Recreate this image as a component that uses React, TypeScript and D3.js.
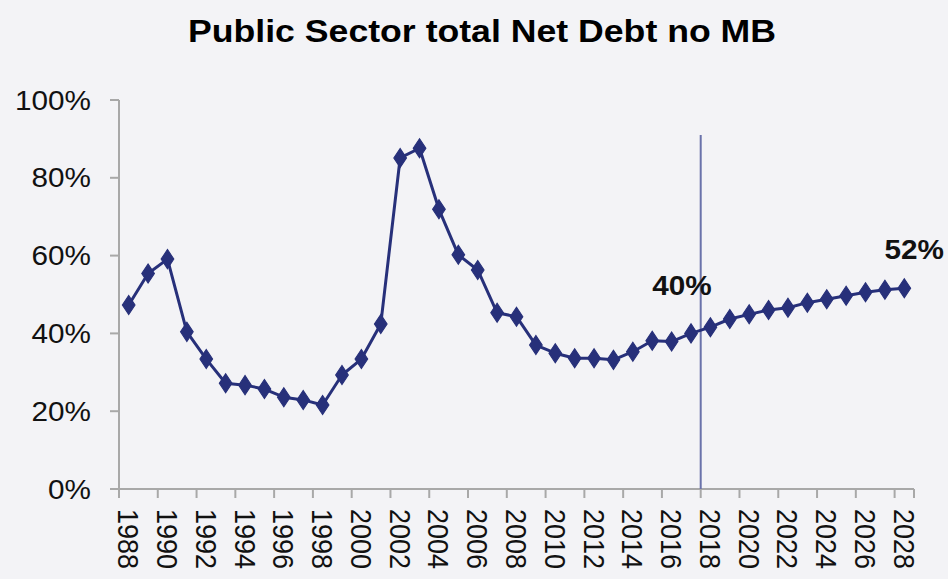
import React from "react";
import * as d3 from "d3";

const title = "Public Sector total Net Debt no MB";
const years: number[] = [
  1988, 1989, 1990, 1991, 1992, 1993, 1994, 1995, 1996, 1997, 1998, 1999, 2000,
  2001, 2002, 2003, 2004, 2005, 2006, 2007, 2008, 2009, 2010, 2011, 2012, 2013,
  2014, 2015, 2016, 2017, 2018, 2019, 2020, 2021, 2022, 2023, 2024, 2025, 2026,
  2027, 2028,
];
const debt: number[] = [
  47.3, 55.4, 59.1, 40.4, 33.4, 27.2, 26.7, 25.7, 23.6, 22.9, 21.6, 29.3, 33.4,
  42.4, 85.1, 87.6, 71.9, 60.2, 56.3, 45.3, 44.3, 37.0, 34.9, 33.6, 33.6, 33.2,
  35.3, 38.1, 37.9, 40.0, 41.6, 43.7, 44.9, 46.0, 46.6, 47.9, 48.8, 49.7, 50.6,
  51.2, 51.6,
];
const yTicks: number[] = [0, 20, 40, 60, 80, 100];
const xTickLabels: number[] = years.filter((_, i) => i % 2 === 0);
const annotations: { year: number; text: string }[] = [
  { year: 2017, text: "40%" },
  { year: 2028, text: "52%" },
];
const markerYear = 2018;

export default function App() {
  const W = 948;
  const H = 579;
  const left = 119;
  const right = 914;
  const top = 100;
  const bottom = 489;
  const sx = 1.1;

  const x = d3
    .scaleBand<number>()
    .domain(years)
    .range([left, right])
    .padding(0);
  const y = d3.scaleLinear().domain([0, 100]).range([bottom, top]);
  const cx = (yr: number) => (x(yr) as number) + x.bandwidth() / 2;

  const lineGen = d3
    .line<number>()
    .x((_, i) => cx(years[i]))
    .y((d) => y(d));

  const diamond = d3.symbol().type(d3.symbolDiamond).size(105)();

  const font = "'Liberation Sans', Arial, sans-serif";
  const axisColor = "#a8a8a8";
  const lineColor = "#27307a";

  const boundaryTicks = xTickLabels.map((yr) => x(yr) as number);
  boundaryTicks.push(right);

  return (
    <div style={{ position: "absolute", left: 0, top: 0 }}>
      <svg width={W} height={H} style={{ display: "block" }}>
        <rect x={0} y={0} width={W} height={H} fill="#f3f3f6" />
        <text
          x={188}
          y={42}
          textAnchor="start"
          textLength={588}
          lengthAdjust="spacingAndGlyphs"
          fontFamily={font}
          fontWeight="bold"
          fontSize={31}
          fill="#000"
        >
          {title}
        </text>

        {/* y axis */}
        <line x1={left} x2={left} y1={top} y2={bottom} stroke={axisColor} strokeWidth={2} />
        {yTicks.map((t) => (
          <g key={t}>
            <line x1={left - 9} x2={left} y1={y(t)} y2={y(t)} stroke={axisColor} strokeWidth={2} />
            <text
              transform={`translate(91,${y(t)}) scale(${sx},1)`}
              textAnchor="end"
              dominantBaseline="central"
              fontFamily={font}
              fontSize={27}
              fill="#111"
            >
              {t}%
            </text>
          </g>
        ))}

        {/* x axis */}
        <line x1={left} x2={right} y1={bottom} y2={bottom} stroke={axisColor} strokeWidth={2} />
        {boundaryTicks.map((bx, i) => (
          <line key={i} x1={bx} x2={bx} y1={bottom} y2={bottom + 9} stroke={axisColor} strokeWidth={2} />
        ))}
        {xTickLabels.map((yr) => (
          <text
            key={yr}
            transform={`translate(${cx(yr)},${509}) scale(${sx},1) rotate(90)`}
            textAnchor="start"
            dominantBaseline="central"
            fontFamily={font}
            fontSize={27}
            fill="#111"
          >
            {yr}
          </text>
        ))}

        {/* vertical marker line */}
        <line
          x1={x(markerYear) as number}
          x2={x(markerYear) as number}
          y1={135}
          y2={bottom}
          stroke="#6a72aa"
          strokeWidth={2}
        />

        {/* series */}
        <path d={lineGen(debt) || ""} fill="none" stroke={lineColor} strokeWidth={3} strokeLinejoin="round" />
        {debt.map((v, i) => (
          <path
            key={i}
            d={diamond || ""}
            transform={`translate(${cx(years[i])},${y(v)}) scale(1.15,1)`}
            fill={lineColor}
            stroke={lineColor}
            strokeWidth={1}
          />
        ))}

        {/* annotations */}
        {annotations.map((a) => {
          const i = years.indexOf(a.year);
          return (
            <text
              key={a.text}
              transform={`translate(${cx(a.year) + (a.year === 2028 ? 10 : -9)},${
                y(debt[i]) - (a.year === 2028 ? 29 : 38)
              }) scale(${sx},1)`}
              textAnchor="middle"
              fontFamily={font}
              fontWeight="bold"
              fontSize={27}
              fill="#111"
            >
              {a.text}
            </text>
          );
        })}
      </svg>
    </div>
  );
}
